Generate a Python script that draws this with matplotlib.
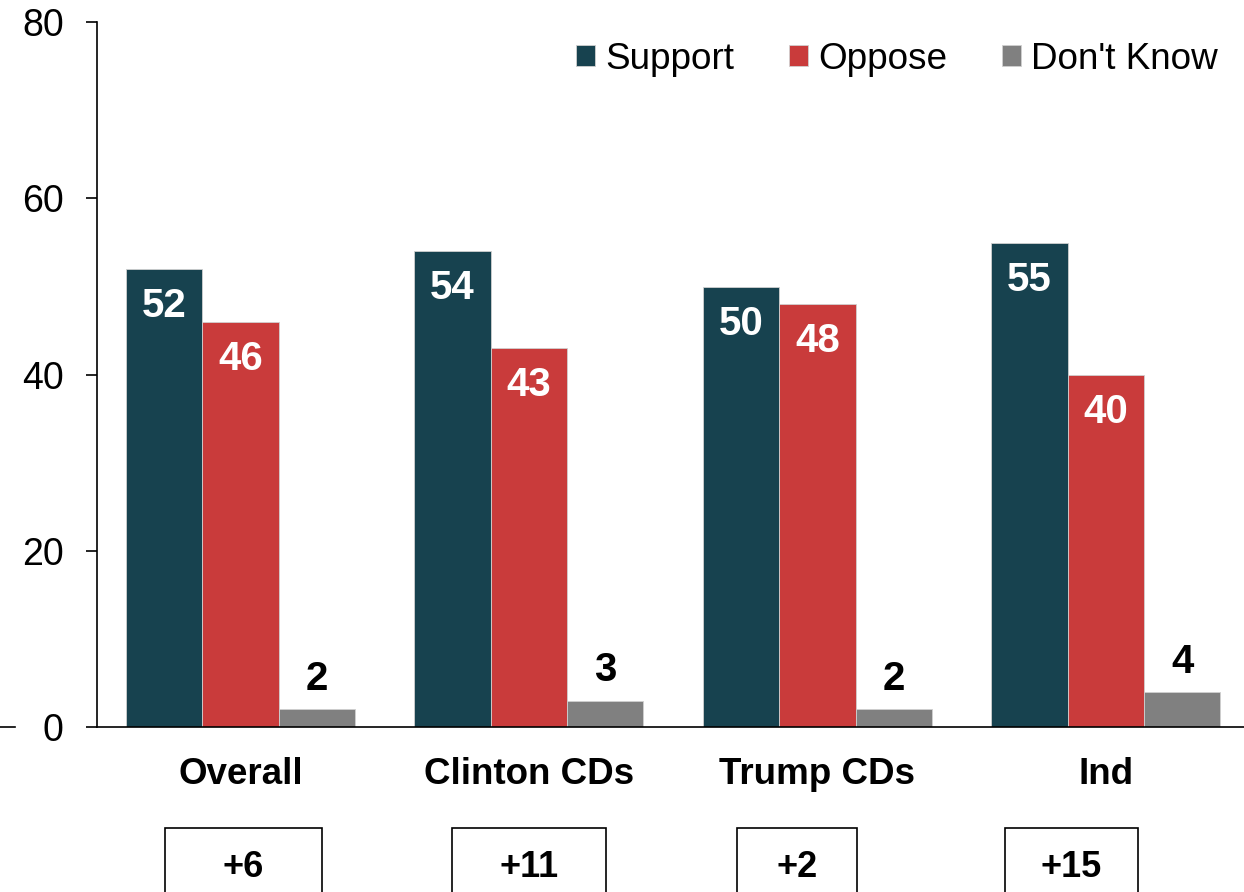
import numpy as np
import matplotlib.pyplot as plt
from matplotlib.patches import Rectangle
from matplotlib.lines import Line2D

plt.rcParams['font.family'] = ['Liberation Sans', 'DejaVu Sans']

# dados
categorias = ['Overall', 'Clinton CDs', 'Trump CDs', 'Ind']
support = [52, 54, 50, 55]
oppose = [46, 43, 48, 40]
dont_know = [2, 3, 2, 4]
margens = ['+6', '+11', '+2', '+15']

cores = ['#17424F', '#C93B3B', '#808080']
series = [('Support', support), ('Oppose', oppose), ("Don't Know", dont_know)]

# layout das caixas de margem (deslocamento do centro e largura, em unidades de x)
caixa_dx = [0.01, 0.0, -0.07, -0.12]
caixa_w = [0.545, 0.535, 0.415, 0.46]

fig = plt.figure(figsize=(12.44, 8.92), dpi=100)
ax = fig.add_axes([0.078, 0.185, 0.922, 0.79])

x = np.arange(len(categorias))
w = 0.2646
for i, (nome, vals) in enumerate(series):
    pos = x + (i - 1) * w
    ax.bar(pos, vals, w, color=cores[i], edgecolor='#d0d0d0', linewidth=0.6, label=nome)
    for p, v in zip(pos, vals):
        if i < 2:
            ax.text(p, v - 4.2, str(v), ha='center', va='center', color='white',
                    fontsize=29, fontweight='bold')
        else:
            ax.annotate(str(v), (p, v), xytext=(0, 8), textcoords='offset points',
                        ha='center', va='bottom', fontsize=29, fontweight='bold')

ax.set_xlim(-0.497, 3.479)
ax.set_ylim(0, 80)
ax.set_yticks([0, 20, 40, 60, 80])
ax.tick_params(axis='y', direction='out', length=8, width=1.2, pad=16, labelsize=27)
ax.set_xticks([])
ax.spines['top'].set_visible(False)
ax.spines['right'].set_visible(False)
ax.spines['left'].set_linewidth(1.2)
ax.spines['bottom'].set_linewidth(1.2)

trans = ax.get_xaxis_transform()
for xi, cat in zip(x, categorias):
    ax.text(xi, -0.068, cat, transform=trans, ha='center', va='center',
            fontsize=26.5, fontweight='bold')

for xi, m, dx, bw in zip(x, margens, caixa_dx, caixa_w):
    cx = xi + dx
    ax.add_patch(Rectangle((cx - bw / 2, -0.27), bw, 0.127, transform=trans,
                           fill=False, edgecolor='black', linewidth=1.2, clip_on=False))
    ax.text(cx, -0.2, m, transform=trans, ha='center', va='center',
            fontsize=26, fontweight='bold')

ax.legend(loc='upper right', bbox_to_anchor=(1.0, 1.009), ncol=3, frameon=False,
          fontsize=26.6, handlelength=0.515, handleheight=0.515, handletextpad=0.27,
          columnspacing=1.49, borderaxespad=0.3)

# pequeno traço à esquerda do zero
fig.add_artist(Line2D([0.0, 0.012], [0.185, 0.185], color='black', linewidth=1.2))

fig.savefig('out.png', dpi=100)
